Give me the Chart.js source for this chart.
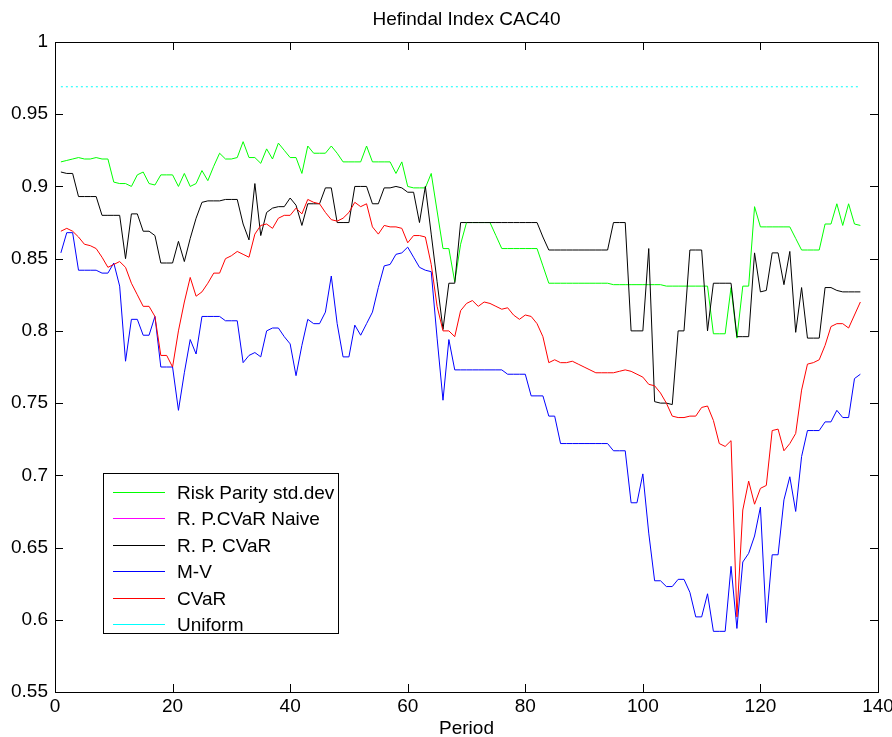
<!DOCTYPE html>
<html>
<head>
<meta charset="utf-8">
<title>Hefindal Index CAC40</title>
<script src="https://cdn.jsdelivr.net/npm/chart.js@4.4.1/dist/chart.umd.min.js"></script>
<style>
  html, body { margin: 0; padding: 0; background: #fff; }
  #wrap { width: 892px; height: 737px; }
</style>
</head>
<body>
<div id="wrap"><canvas id="hefindal" width="892" height="737"></canvas></div>
<script>
// values, one per period (1..137)
var riskParity = [
  0.917, 0.918, 0.919, 0.920, 0.919, 0.919, 0.920, 0.919, 0.919, 0.903,
  0.902, 0.902, 0.900, 0.908, 0.910, 0.902, 0.901, 0.908, 0.908, 0.908,
  0.900, 0.909, 0.900, 0.902, 0.911, 0.904, 0.914, 0.923, 0.919, 0.919,
  0.920, 0.931, 0.920, 0.920, 0.916, 0.926, 0.919, 0.930, 0.925, 0.920,
  0.920, 0.909, 0.928, 0.923, 0.923, 0.923, 0.928, 0.923, 0.917, 0.917,
  0.917, 0.917, 0.928, 0.917, 0.917, 0.917, 0.917, 0.909, 0.917, 0.900,
  0.899, 0.899, 0.899, 0.909, 0.883, 0.857, 0.857, 0.834, 0.860, 0.875,
  0.875, 0.875, 0.875, 0.875, 0.866, 0.857, 0.857, 0.857, 0.857, 0.857,
  0.857, 0.857, 0.845, 0.833, 0.833, 0.833, 0.833, 0.833, 0.833, 0.833,
  0.833, 0.833, 0.833, 0.833, 0.832, 0.832, 0.832, 0.832, 0.832, 0.832,
  0.832, 0.832, 0.832, 0.831, 0.831, 0.831, 0.831, 0.831, 0.831, 0.831,
  0.831, 0.798, 0.798, 0.798, 0.830, 0.795, 0.831, 0.831, 0.886, 0.872,
  0.872, 0.872, 0.872, 0.872, 0.872, 0.864, 0.856, 0.856, 0.856, 0.856,
  0.874, 0.874, 0.888, 0.873, 0.888, 0.874, 0.873
];
var rpCvar = [
  0.910, 0.909, 0.909, 0.893, 0.893, 0.893, 0.893, 0.880, 0.880, 0.880,
  0.880, 0.850, 0.881, 0.881, 0.869, 0.869, 0.866, 0.847, 0.847, 0.847,
  0.862, 0.848, 0.864, 0.878, 0.889, 0.890, 0.890, 0.890, 0.891, 0.891,
  0.891, 0.874, 0.863, 0.902, 0.866, 0.882, 0.885, 0.886, 0.886, 0.892,
  0.887, 0.873, 0.888, 0.888, 0.888, 0.899, 0.899, 0.875, 0.875, 0.875,
  0.900, 0.900, 0.900, 0.888, 0.888, 0.899, 0.899, 0.900, 0.899, 0.896,
  0.896, 0.875, 0.900, 0.867, 0.834, 0.801, 0.833, 0.833, 0.875, 0.875,
  0.875, 0.875, 0.875, 0.875, 0.875, 0.875, 0.875, 0.875, 0.875, 0.875,
  0.875, 0.875, 0.865, 0.856, 0.856, 0.856, 0.856, 0.856, 0.856, 0.856,
  0.856, 0.856, 0.856, 0.856, 0.875, 0.875, 0.875, 0.800, 0.800, 0.800,
  0.857, 0.751, 0.750, 0.750, 0.749, 0.800, 0.800, 0.856, 0.856, 0.856,
  0.800, 0.833, 0.833, 0.833, 0.833, 0.796, 0.796, 0.796, 0.854, 0.827,
  0.828, 0.854, 0.854, 0.832, 0.855, 0.799, 0.830, 0.795, 0.795, 0.795,
  0.830, 0.830, 0.828, 0.827, 0.827, 0.827, 0.827
];
// the naive variant lies exactly under R. P. CVaR, so it never shows in the figure
var rpCvarNaive = rpCvar.slice();
var meanVar = [
  0.854, 0.868, 0.868, 0.842, 0.842, 0.842, 0.842, 0.840, 0.840, 0.847,
  0.831, 0.779, 0.808, 0.808, 0.797, 0.797, 0.810, 0.775, 0.775, 0.775,
  0.745, 0.771, 0.794, 0.784, 0.810, 0.810, 0.810, 0.810, 0.807, 0.807,
  0.807, 0.778, 0.783, 0.785, 0.782, 0.800, 0.802, 0.802, 0.796, 0.791,
  0.769, 0.790, 0.808, 0.805, 0.805, 0.813, 0.838, 0.805, 0.782, 0.782,
  0.804, 0.797, 0.805, 0.813, 0.830, 0.845, 0.846, 0.853, 0.854, 0.858,
  0.851, 0.844, 0.842, 0.841, 0.795, 0.752, 0.794, 0.773, 0.773, 0.773,
  0.773, 0.773, 0.773, 0.773, 0.773, 0.773, 0.770, 0.770, 0.770, 0.770,
  0.755, 0.755, 0.755, 0.741, 0.741, 0.722, 0.722, 0.722, 0.722, 0.722,
  0.722, 0.722, 0.722, 0.722, 0.717, 0.717, 0.717, 0.681, 0.681, 0.701,
  0.660, 0.627, 0.627, 0.623, 0.623, 0.628, 0.628, 0.619, 0.602, 0.602,
  0.618, 0.592, 0.592, 0.592, 0.637, 0.594, 0.640, 0.646, 0.658, 0.678,
  0.598, 0.645, 0.645, 0.683, 0.699, 0.675, 0.713, 0.731, 0.731, 0.731,
  0.737, 0.737, 0.745, 0.740, 0.740, 0.767, 0.770
];
var cvar = [
  0.869, 0.871, 0.869, 0.865, 0.860, 0.859, 0.857, 0.851, 0.844, 0.846,
  0.848, 0.844, 0.833, 0.825, 0.817, 0.817, 0.810, 0.783, 0.783, 0.775,
  0.800, 0.820, 0.837, 0.824, 0.827, 0.833, 0.840, 0.840, 0.850, 0.852,
  0.855, 0.853, 0.851, 0.867, 0.873, 0.874, 0.871, 0.878, 0.880, 0.880,
  0.885, 0.881, 0.891, 0.889, 0.888, 0.882, 0.877, 0.876, 0.878, 0.882,
  0.889, 0.886, 0.888, 0.872, 0.867, 0.873, 0.872, 0.872, 0.871, 0.861,
  0.866, 0.866, 0.865, 0.846, 0.817, 0.800, 0.800, 0.796, 0.814, 0.819,
  0.821, 0.817, 0.820, 0.819, 0.817, 0.815, 0.816, 0.811, 0.808, 0.811,
  0.810, 0.805, 0.796, 0.778, 0.780, 0.778, 0.778, 0.779, 0.777, 0.775,
  0.773, 0.771, 0.771, 0.771, 0.771, 0.772, 0.773, 0.772, 0.770, 0.768,
  0.763, 0.762, 0.757, 0.750, 0.741, 0.740, 0.740, 0.741, 0.741, 0.747,
  0.748, 0.738, 0.722, 0.720, 0.724, 0.602, 0.676, 0.696, 0.680, 0.691,
  0.693, 0.731, 0.732, 0.717, 0.722, 0.729, 0.759, 0.777, 0.778, 0.780,
  0.790, 0.803, 0.805, 0.805, 0.802, 0.811, 0.820
];
var uniformLevel = 0.969;

var xTicks = [0, 20, 40, 60, 80, 100, 120, 140];
var yTicks = [0.55, 0.6, 0.65, 0.7, 0.75, 0.8, 0.85, 0.9, 0.95, 1];

var titleText = 'Hefindal Index CAC40';

var periods = [];
for (var p = 1; p <= riskParity.length; p++) periods.push(p);

var FONT = '"Liberation Sans", Arial, Helvetica, sans-serif';
var FONT_SIZE = 19;

function toPoints(values) {
  return values.map(function (v, i) { return { x: periods[i], y: v }; });
}

function lineSet(label, values, color, order) {
  return {
    label: label,
    data: toPoints(values),
    borderColor: color,
    backgroundColor: color,
    borderWidth: 1,
    pointRadius: 0,
    tension: 0,
    fill: false,
    order: order
  };
}

// matlab-like box with inward ticks on all four sides, title and legend
var matlabFrame = {
  id: 'matlabFrame',
  afterDraw: function (chart) {
    var ctx = chart.ctx;
    var a = chart.chartArea;
    var xs = chart.scales.x, ys = chart.scales.y;
    var tl = 8;
    ctx.save();
    ctx.strokeStyle = '#000';
    ctx.lineWidth = 1;
    ctx.beginPath();
    xTicks.forEach(function (v) {
      var px = Math.round(xs.getPixelForValue(v)) + 0.5;
      ctx.moveTo(px, a.bottom); ctx.lineTo(px, a.bottom - tl);
      ctx.moveTo(px, a.top); ctx.lineTo(px, a.top + tl);
    });
    yTicks.forEach(function (v) {
      var py = Math.round(ys.getPixelForValue(v)) + 0.5;
      ctx.moveTo(a.left, py); ctx.lineTo(a.left + tl, py);
      ctx.moveTo(a.right, py); ctx.lineTo(a.right - tl, py);
    });
    ctx.stroke();
    ctx.strokeRect(Math.round(a.left) + 0.5, Math.round(a.top) + 0.5,
      Math.round(a.right - a.left), Math.round(a.bottom - a.top));

    // title centred over the axes
    ctx.fillStyle = '#000';
    ctx.font = FONT_SIZE + 'px ' + FONT;
    ctx.textAlign = 'center';
    ctx.textBaseline = 'middle';
    ctx.fillText(titleText, (a.left + a.right) / 2, 20);

    // legend box, lower left of the axes
    var left = Math.round(a.left) + 48, top = Math.round(a.top) + 431;
    var w = 235, h = 160, row = 26.4;
    ctx.fillStyle = '#fff';
    ctx.fillRect(left, top, w, h);
    ctx.strokeRect(left + 0.5, top + 0.5, w, h);
    ctx.textAlign = 'left';
    chart.data.datasets.forEach(function (ds, i) {
      var y = Math.round(top + 19 + i * row) + 0.5;
      ctx.strokeStyle = ds.borderColor;
      ctx.beginPath();
      ctx.moveTo(left + 10, y);
      ctx.lineTo(left + 62, y);
      ctx.stroke();
      ctx.fillStyle = '#000';
      ctx.fillText(ds.label, left + 74, y + 1);
    });
    ctx.restore();
  }
};

var naiveSet = lineSet('R. P.CVaR Naive', rpCvarNaive, '#ff00ff', 5);
naiveSet.hidden = true;

var uniformSet = lineSet('Uniform', [], '#00ffff', 1);
uniformSet.data = [
  { x: periods[0], y: uniformLevel },
  { x: periods[periods.length - 1], y: uniformLevel }
];
uniformSet.borderDash = [2, 3];

var chart = new Chart(document.getElementById('hefindal'), {
  type: 'line',
  data: {
    datasets: [
      lineSet('Risk Parity std.dev', riskParity, '#00ff00', 6),
      naiveSet,
      lineSet('R. P. CVaR', rpCvar, '#000000', 4),
      lineSet('M-V', meanVar, '#0000ff', 3),
      lineSet('CVaR', cvar, '#ff0000', 2),
      uniformSet
    ]
  },
  options: {
    responsive: false,
    animation: false,
    layout: { padding: { left: 0, right: 14, top: 42, bottom: 0 } },
    plugins: {
      legend: { display: false },
      tooltip: { enabled: false },
      title: { display: false }
    },
    scales: {
      x: {
        type: 'linear',
        min: 0,
        max: 140,
        afterBuildTicks: function (scale) {
          scale.ticks = xTicks.map(function (v) { return { value: v }; });
        },
        afterFit: function (scale) {
          scale.height = 45;
          scale.paddingLeft = 0;
          scale.paddingRight = 0;
        },
        grid: { display: false, drawTicks: false },
        border: { display: false },
        ticks: {
          color: '#000',
          padding: 3,
          maxRotation: 0,
          autoSkip: false,
          font: { family: FONT, size: FONT_SIZE },
          callback: function (v) { return String(v); }
        },
        title: {
          display: true,
          text: 'Period',
          color: '#000',
          padding: { top: 0, bottom: -3 },
          font: { family: FONT, size: FONT_SIZE }
        }
      },
      y: {
        min: 0.55,
        max: 1,
        afterBuildTicks: function (scale) {
          scale.ticks = yTicks.map(function (v) { return { value: v }; });
        },
        afterFit: function (scale) {
          scale.width = 55;
          scale.paddingTop = 0;
          scale.paddingBottom = 0;
        },
        grid: { display: false, drawTicks: false },
        border: { display: false },
        ticks: {
          color: '#000',
          padding: 7,
          autoSkip: false,
          font: { family: FONT, size: FONT_SIZE },
          callback: function (v) { return String(+v.toFixed(2)); }
        }
      }
    }
  },
  plugins: [matlabFrame]
});
</script>
</body>
</html>
